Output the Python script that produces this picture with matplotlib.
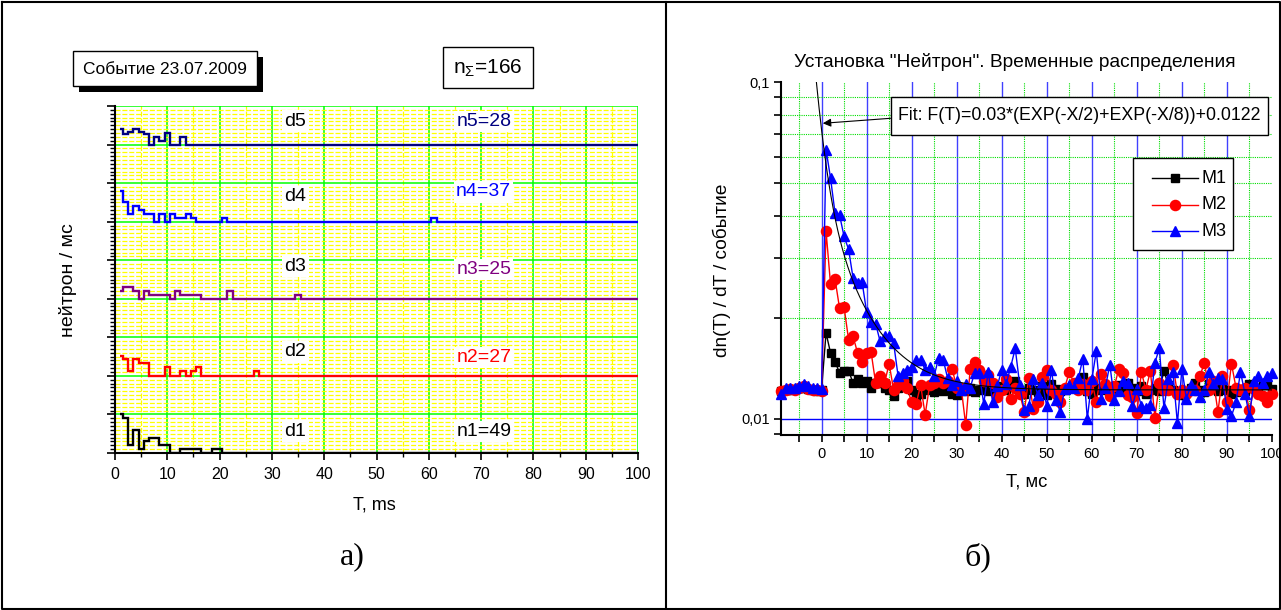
import numpy as np
import matplotlib.pyplot as plt
from matplotlib.ticker import MultipleLocator, FixedLocator, FixedFormatter, NullFormatter
from matplotlib.patches import Rectangle

plt.rcParams['font.family'] = ['Liberation Sans', 'DejaVu Sans']
plt.rcParams['mathtext.fontset'] = 'custom'
plt.rcParams['mathtext.rm'] = 'Liberation Sans'
plt.rcParams['mathtext.it'] = 'Liberation Sans:italic'

W, H = 1281, 610

# ---- panel a): neutron counts per detector (step heights, 1 ms bins from 1 ms) ----
det_names = ['d1', 'd2', 'd3', 'd4', 'd5']
det_counts = ['n1=49', 'n2=27', 'n3=25', 'n4=37', 'n5=28']
det_colors = ['black', '#ff0000', '#800080', '#0000ff', '#000080']
d1 = [1.0, 0.9, 0.2, 0.6, 0.1, 0.3, 0.4, 0.4, 0.2, 0.2, 0, 0, 0.1, 0.1, 0.1, 0.1, 0, 0, 0.1, 0.1, 0, 0]
d2 = [0.52, 0.43, 0.13, 0.43, 0.33, 0.33, 0, 0, 0, 0.22, 0, 0, 0.13, 0, 0.13, 0.22, 0, 0, 0, 0, 0, 0]
d3 = [0.2, 0.3, 0.3, 0.2, 0, 0.2, 0.1, 0.1, 0.1, 0.1, 0, 0.2, 0.1, 0.1, 0.1, 0.1, 0, 0, 0, 0, 0, 0.2]
d4 = [0.8, 0.5, 0.2, 0.4, 0.3, 0.2, 0.2, 0, 0.2, 0, 0.2, 0.1, 0.1, 0.2, 0.1, 0, 0, 0, 0, 0, 0.1, 0]
d5 = [0.4, 0.28, 0.33, 0.4, 0.33, 0.28, 0, 0.2, 0.1, 0.3, 0, 0, 0.2, 0, 0, 0, 0, 0, 0, 0, 0, 0]
# isolated late counts: (bin start ms, height)
d2_late = [(26.5, 0.13)]
d3_late = [(34.5, 0.1)]
d4_late = [(60.5, 0.1)]
d1_late, d5_late = [], []

# ---- panel б): time distributions, 1 ms steps from -9 to 100 ms ----
t_ms = np.arange(-9, 101)
m1 = [0.0121, 0.0122, 0.0122, 0.0123, 0.0124, 0.0124, 0.0123, 0.0122, 0.0121, 0.0122,
      0.0180, 0.0157, 0.0148, 0.0137, 0.0139, 0.0139, 0.0128, 0.0131, 0.0128, 0.0130,
      0.0124, 0.0128, 0.0128, 0.0124, 0.0122, 0.0117, 0.0124, 0.0126, 0.0130, 0.0122,
      0.0116, 0.0119, 0.0122, 0.0124, 0.0120, 0.0122, 0.0121, 0.0126, 0.0119, 0.0118,
      0.0123, 0.0121, 0.0124, 0.0120, 0.0122, 0.0125, 0.0121, 0.0123, 0.0120, 0.0125,
      0.0122, 0.0128, 0.0130, 0.0121, 0.0119, 0.0124, 0.0122, 0.0120, 0.0125, 0.0118,
      0.0127, 0.0123, 0.0121, 0.0122, 0.0124, 0.0126, 0.0123, 0.0133, 0.0121, 0.0119,
      0.0124, 0.0122, 0.0125, 0.0120, 0.0123, 0.0126, 0.0122, 0.0128, 0.0124, 0.0121,
      0.0125, 0.0119, 0.0122, 0.0124, 0.0121, 0.0139, 0.0126, 0.0122, 0.0120, 0.0118,
      0.0121, 0.0124, 0.0128, 0.0122, 0.0120, 0.0127, 0.0123, 0.0121, 0.0125, 0.0122,
      0.0119, 0.0120, 0.0123, 0.0121, 0.0127, 0.0124, 0.0120, 0.0127, 0.0126, 0.0123]
m2 = [0.0121, 0.0122, 0.0123, 0.0122, 0.0124, 0.0125, 0.0123, 0.0122, 0.0122, 0.0121,
      0.0361, 0.0251, 0.0260, 0.0213, 0.0215, 0.0172, 0.0176, 0.0157, 0.0148, 0.0157,
      0.0158, 0.0128, 0.0134, 0.0128, 0.0146, 0.0122, 0.0126, 0.0130, 0.0124, 0.0112,
      0.0111, 0.0126, 0.0103, 0.0126, 0.0128, 0.0131, 0.0128, 0.0130, 0.0141, 0.0124,
      0.0124, 0.0096, 0.0141, 0.0148, 0.0140, 0.0130, 0.0135, 0.0128, 0.0116, 0.0122,
      0.0131, 0.0115, 0.0124, 0.0119, 0.0105, 0.0132, 0.0107, 0.0112, 0.0133, 0.0140,
      0.0122, 0.0119, 0.0112, 0.0124, 0.0138, 0.0128, 0.0122, 0.0127, 0.0122, 0.0130,
      0.0112, 0.0136, 0.0127, 0.0117, 0.0125, 0.0141, 0.0137, 0.0118, 0.0116, 0.0104,
      0.0138, 0.0122, 0.0139, 0.0101, 0.0128, 0.0122, 0.0122, 0.0145, 0.0119, 0.0122,
      0.0119, 0.0122, 0.0122, 0.0134, 0.0147, 0.0122, 0.0130, 0.0105, 0.0134, 0.0112,
      0.0146, 0.0124, 0.0122, 0.0124, 0.0106, 0.0123, 0.0119, 0.0117, 0.0112, 0.0119]
m3 = [0.0119, 0.0124, 0.0124, 0.0124, 0.0125, 0.0127, 0.0125, 0.0124, 0.0124, 0.0123,
      0.0630, 0.0518, 0.0408, 0.0403, 0.0348, 0.0319, 0.0262, 0.0253, 0.0255, 0.0208,
      0.0194, 0.0192, 0.0170, 0.0176, 0.0176, 0.0168, 0.0134, 0.0137, 0.0140, 0.0143,
      0.0150, 0.0150, 0.0140, 0.0143, 0.0134, 0.0152, 0.0150, 0.0132, 0.0126, 0.0130,
      0.0122, 0.0127, 0.0124, 0.0137, 0.0137, 0.0111, 0.0138, 0.0112, 0.0125, 0.0140,
      0.0127, 0.0143, 0.0162, 0.0126, 0.0106, 0.0109, 0.0131, 0.0118, 0.0128, 0.0109,
      0.0140, 0.0114, 0.0105, 0.0123, 0.0126, 0.0124, 0.0132, 0.0151, 0.0100, 0.0131,
      0.0159, 0.0115, 0.0124, 0.0145, 0.0114, 0.0121, 0.0130, 0.0128, 0.0109, 0.0123,
      0.0109, 0.0108, 0.0110, 0.0147, 0.0162, 0.0108, 0.0131, 0.0138, 0.0097, 0.0141,
      0.0115, 0.0126, 0.0122, 0.0116, 0.0122, 0.0138, 0.0127, 0.0132, 0.0131, 0.0107,
      0.0102, 0.0112, 0.0138, 0.0119, 0.0102, 0.0130, 0.0134, 0.0128, 0.0134, 0.0137]
series_names = ['M1', 'M2', 'M3']
series_colors = ['black', '#ff0000', '#0000ff']
series_markers = ['s', 'o', '^']
fit_a, fit_t1, fit_t2, fit_c = 0.03, 2.0, 8.0, 0.0122
fit_text = 'Fit: F(T)=0.03*(EXP(-X/2)+EXP(-X/8))+0.0122'

fig = plt.figure(figsize=(W / 100, H / 100), dpi=100)


def px_axes(x0, y0, x1, y1):
    return fig.add_axes([x0 / W, 1 - y1 / H, (x1 - x0) / W, (y1 - y0) / H])


# ================= left panel =================
axL = px_axes(115, 106, 638, 453)
axL.set_xlim(0, 100)
axL.set_ylim(0, 9)
axL.xaxis.set_major_locator(MultipleLocator(10))
axL.xaxis.set_minor_locator(MultipleLocator(5))
axL.yaxis.set_major_locator(MultipleLocator(1))
axL.yaxis.set_minor_locator(MultipleLocator(0.1))
axL.yaxis.set_major_formatter(NullFormatter())
axL.grid(which='minor', color='#ffff00', ls=(0, (4, 1.5)), lw=0.9)
axL.grid(which='major', color='#00ff00', ls='-', lw=1.1)
axL.set_axisbelow(True)
for s in ['top', 'right']:
    axL.spines[s].set_visible(False)
for s in ['left', 'bottom']:
    axL.spines[s].set_linewidth(1.5)
axL.tick_params(axis='x', which='major', direction='out', length=5, width=1.2, labelsize=11.5, pad=5)
axL.tick_params(axis='x', which='minor', direction='out', length=3, width=1.0)
axL.tick_params(axis='y', which='major', direction='out', length=6, width=1.2)
axL.tick_params(axis='y', which='minor', direction='out', length=3.5, width=1.0)

edges = np.concatenate([[1.0], np.arange(1.5, 100.0, 1.0), [100.0]])
dets = [d1, d2, d3, d4, d5]
lates = [d1_late, d2_late, d3_late, d4_late, d5_late]
name_y = [0.57, 2.62, 4.85, 6.64, 8.61]
count_y = [0.55, 2.48, 4.76, 6.77, 8.6]
for i, (vals, late) in enumerate(zip(dets, lates)):
    base = 2 * i
    h = np.zeros(len(edges) - 1)
    h[:len(vals)] = vals
    for t0, v in late:
        h[int(t0)] = v
    axL.stairs(h + base, edges, baseline=None, color=det_colors[i], lw=1.7, zorder=3)
    axL.text(34.5, name_y[i], det_names[i], ha='center', va='center', fontsize=14,
             color='black', zorder=4,
             bbox=dict(facecolor='white', edgecolor='none', pad=1.5))
    axL.text(70.5, count_y[i], det_counts[i], ha='center', va='center', fontsize=14,
             color=det_colors[i], zorder=4,
             bbox=dict(facecolor='white', edgecolor='none', pad=1.5))

# ================= right panel =================
axR = px_axes(781, 82, 1272, 435)
axR.set_yscale('log')
axR.set_xlim(-9, 100)
axR.set_ylim(0.008964, 0.1)
for x in range(0, 100, 10):
    axR.axvline(x, color='#0000ff', lw=1, alpha=0.75, zorder=1)
for x in range(-5, 100, 10):
    axR.axvline(x, color='#00dd00', lw=0.8, ls=(0, (1, 1)), zorder=1)
for y in np.arange(0.02, 0.095, 0.01):
    axR.axhline(y, color='#00dd00', lw=0.8, ls=(0, (1, 1)), zorder=1)
axR.axhline(0.01, color='#0000ff', lw=1, zorder=1)

for vals, c, mk, nm in zip([m1, m2, m3], series_colors, series_markers, series_names):
    ms = 6.3 if mk == 's' else 7.3
    axR.plot(t_ms, vals, color=c, marker=mk, ms=ms, lw=1, label=nm, clip_on=False, zorder=3)

tf = np.linspace(-1.15, 100, 1000)
ff = fit_a * (np.exp(-tf / fit_t1) + np.exp(-tf / fit_t2)) + fit_c
axR.plot(tf, ff, color='black', lw=0.8, zorder=4)

axR.xaxis.set_major_locator(FixedLocator(range(0, 101, 10)))
axR.xaxis.set_minor_locator(FixedLocator(range(-5, 100, 10)))
axR.yaxis.set_major_locator(FixedLocator([0.01, 0.1]))
axR.yaxis.set_major_formatter(FixedFormatter(['0,01', '0,1']))
axR.yaxis.set_minor_locator(FixedLocator([0.009] + list(np.arange(0.02, 0.095, 0.01))))
axR.yaxis.set_minor_formatter(NullFormatter())
for s in ['top', 'right']:
    axR.spines[s].set_visible(False)
for s in ['left', 'bottom']:
    axR.spines[s].set_linewidth(1.5)
axR.tick_params(axis='both', which='both', direction='out', width=1.2, labelsize=10.5)
axR.tick_params(axis='x', which='both', length=5, pad=4)
axR.tick_params(axis='y', which='both', length=5, pad=3)

# ================= overlay: frames, boxes, captions =================
ov = fig.add_axes([0, 0, 1, 1])
ov.set_xlim(0, W)
ov.set_ylim(H, 0)
ov.axis('off')

ov.plot([1.5, 1279.5, 1279.5, 1.5, 1.5], [1.5, 1.5, 608.5, 608.5, 1.5], color='black', lw=1.5)
ov.plot([666, 666], [1.5, 608.5], color='black', lw=1.5)

# left panel boxes
ov.add_patch(Rectangle((78.5, 57), 184.5, 35, facecolor='black', edgecolor='none'))
ov.add_patch(Rectangle((72.5, 51), 184.5, 35, facecolor='white', edgecolor='black', lw=1))
ov.text(164.8, 69, 'Событие 23.07.2009', ha='center', va='center', fontsize=12.5)
ov.add_patch(Rectangle((443, 46.7), 89.5, 41.6, facecolor='white', edgecolor='black', lw=1))
ov.text(487.5, 68, r'n$_{\Sigma}$=166', ha='center', va='center', fontsize=15)

ov.text(68, 280, 'нейтрон / мс', rotation=90, ha='center', va='center', fontsize=14)
ov.text(374, 505, 'T, ms', ha='center', va='center', fontsize=13)
ov.text(352, 557, 'а)', ha='center', va='center', fontsize=23, family='Liberation Serif')

# right panel texts
ov.text(1015, 61.7, 'Установка "Нейтрон". Временные распределения', ha='center', va='center', fontsize=13.8)
ov.text(722, 270, 'dn(T) / dT / событие', rotation=90, ha='center', va='center', fontsize=13.7)
ov.text(1027, 481.7, 'T, мс', ha='center', va='center', fontsize=13.3)
ov.text(977.5, 557, 'б)', ha='center', va='center', fontsize=23, family='Liberation Serif')

# fit box with arrow
ov.add_patch(Rectangle((890.5, 96.7), 377.5, 38.3, facecolor='white', edgecolor='black', lw=1))
ov.text(898, 116, fit_text, ha='left', va='center', fontsize=12.8)
ov.annotate('', xy=(822.8, 123.3), xytext=(890.5, 118.3),
            arrowprops=dict(arrowstyle='-|>', color='black', lw=0.8, mutation_scale=12,
                            shrinkA=0, shrinkB=0))

# legend
ov.add_patch(Rectangle((1132.8, 158.3), 100, 91.7, facecolor='white', edgecolor='black', lw=1))
for k, (nm, c, mk) in enumerate(zip(series_names, series_colors, series_markers)):
    yy = 178.3 + 26.4 * k
    ov.plot([1151.7, 1198], [yy, yy], color=c, lw=1)
    ov.plot([1174.8], [yy], color=c, marker=mk, ms=6.3 if mk == 's' else 7.3, lw=0)
    ov.text(1201.7, yy, nm, ha='left', va='center', fontsize=13)

fig.savefig('out.png', dpi=100)
